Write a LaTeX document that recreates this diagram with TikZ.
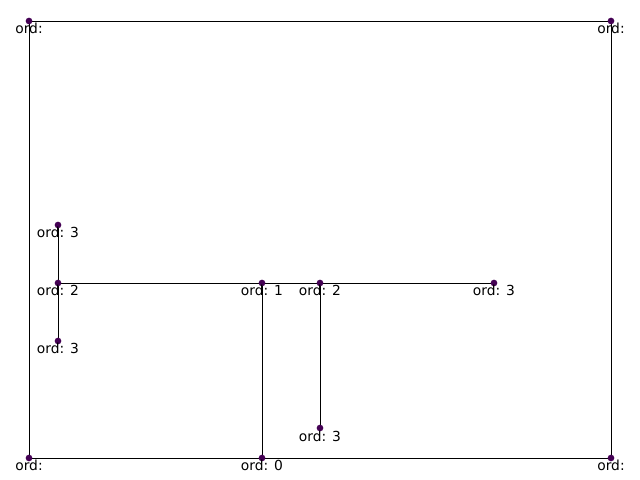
\documentclass[tikz,border=0pt]{standalone}
\usepackage{fontspec}
\setmainfont{DejaVu Sans}
\usepackage{xcolor}
\usepackage{tikz}
\usetikzlibrary{calc, positioning}

\definecolor{ordpurple}{HTML}{440154}

\begin{document}
\begin{tikzpicture}[x=0.0254cm, y=-0.0254cm, line width=0.6pt,
    lab/.style={anchor=north, inner sep=0pt, yshift=-1.5pt, font=\fontsize{10}{12}\selectfont}]
            \useasboundingbox (0,0) rectangle (640,480);

            % points
            \coordinate (c1) at (29,21);
            \coordinate (c2) at (611,21);
            \coordinate (c3) at (29,458);
            \coordinate (c4) at (611,458);
            \coordinate (o0) at (262,458);
            \coordinate (o1) at (262,283);
            \coordinate (l2) at (58,283);
            \coordinate (r2) at (320,283);
            \coordinate (u3) at (58,225);
            \coordinate (d3) at (58,341);
            \coordinate (e3) at (494,283);
            \coordinate (b3) at (320,428);

            \draw (c1) -- (c2) -- (c4) -- (c3) -- cycle;
            \draw (o0) -- (o1);
            \draw (l2) -- (e3);
            \draw (u3) -- (d3);
            \draw (r2) -- (b3);

            \foreach \p in {c1,c2,c3,c4,o0,o1,l2,r2,u3,d3,e3,b3}
                \fill[ordpurple] (\p) circle (0.085cm);

            \node[lab] (t1) at (c1) {ord:};
            \node[lab] (t2) at (c2) {ord:};
            \node[lab] (t3) at (c3) {ord:};
            \node[lab] (t4) at (c4) {ord:};
            \node[lab] (t5) at (o0) {ord: 0};
            \node[lab] (t6) at (o1) {ord: 1};
            \node[lab] (t7) at (l2) {ord: 2};
            \node[lab] (t8) at (r2) {ord: 2};
            \node[lab] (t9) at (u3) {ord: 3};
            \node[lab] (t10) at (d3) {ord: 3};
            \node[lab] (t11) at (e3) {ord: 3};
            \node[lab] (t12) at (b3) {ord: 3};
        \end{tikzpicture}
\end{document}
